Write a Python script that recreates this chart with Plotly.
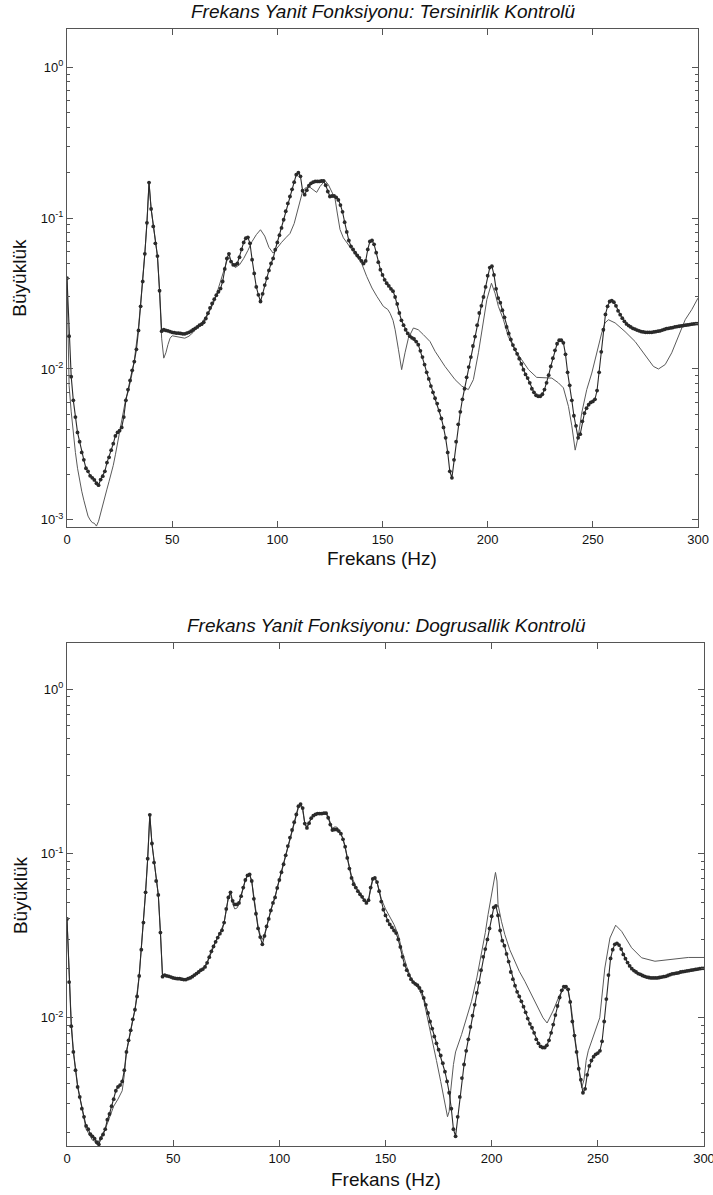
import math
import plotly.graph_objects as go

# ---------------- data ----------------
freq = list(range(0, 301))
measured = [
    0.040, 0.0165, 0.0089, 0.0062, 0.0048, 0.0038, 0.0033, 0.0028, 0.0025, 0.0022,
    0.0021, 0.00196, 0.0019, 0.00184, 0.00175, 0.0017, 0.00185, 0.00195, 0.0021, 0.0024,
    0.0026, 0.0029, 0.0032, 0.0036, 0.0038, 0.0039, 0.0041, 0.0048, 0.0062, 0.0073,
    0.0084, 0.0098, 0.0112, 0.0135, 0.018, 0.026, 0.038, 0.058, 0.093, 0.172,
    0.115, 0.088, 0.068, 0.056, 0.033, 0.0178, 0.0182, 0.018, 0.0179, 0.0177,
    0.0175, 0.0174, 0.0173, 0.0173, 0.0172, 0.0171, 0.0171, 0.0173, 0.0175, 0.0178,
    0.0182, 0.0186, 0.019, 0.0195, 0.0198, 0.0204, 0.0216, 0.0234, 0.0254, 0.0272,
    0.029, 0.0308, 0.0325, 0.0341, 0.038, 0.046, 0.054, 0.058, 0.0515, 0.049,
    0.049, 0.050, 0.055, 0.062, 0.069, 0.0735, 0.0745, 0.068, 0.053, 0.043,
    0.035, 0.031, 0.028, 0.0315, 0.036, 0.040, 0.045, 0.050, 0.054, 0.0617,
    0.069, 0.077, 0.086, 0.0975, 0.111, 0.125, 0.139, 0.155, 0.173, 0.194,
    0.200, 0.189, 0.152, 0.143, 0.153, 0.164, 0.170, 0.173, 0.175, 0.175,
    0.175, 0.176, 0.176, 0.165, 0.150, 0.139, 0.140, 0.140, 0.137, 0.132,
    0.122, 0.110, 0.094, 0.081, 0.071, 0.065, 0.062, 0.059, 0.0565, 0.0545,
    0.052, 0.050, 0.052, 0.062, 0.070, 0.071, 0.067, 0.059, 0.051, 0.0455,
    0.042, 0.039, 0.037, 0.0355, 0.034, 0.0328, 0.030, 0.027, 0.0235, 0.021,
    0.0195, 0.0182, 0.0172, 0.0165, 0.0161, 0.0158, 0.0152, 0.0145, 0.0132, 0.012,
    0.0107, 0.0095, 0.0086, 0.0077, 0.007, 0.0064, 0.0059, 0.0053, 0.0047, 0.0041,
    0.0035, 0.0028, 0.0021, 0.0019, 0.0025, 0.0033, 0.0043, 0.0052, 0.0063, 0.0074,
    0.0088, 0.0103, 0.012, 0.0142, 0.0164, 0.0195, 0.0235, 0.0262, 0.030, 0.035,
    0.0415, 0.047, 0.048, 0.042, 0.034, 0.0295, 0.0275, 0.0245, 0.022, 0.019,
    0.0172, 0.0157, 0.0144, 0.0135, 0.0126, 0.0117, 0.0108, 0.0099, 0.0092, 0.0087,
    0.0081, 0.0074, 0.007, 0.0067, 0.0066, 0.0066, 0.0068, 0.0073, 0.0081, 0.0091,
    0.0104, 0.0118, 0.0133, 0.0147, 0.0155, 0.0155, 0.0149, 0.0125, 0.0095, 0.0078,
    0.0062, 0.0049, 0.0042, 0.0035, 0.0037, 0.0045, 0.0051, 0.0055, 0.0058, 0.006,
    0.0061, 0.0063, 0.0072, 0.0095, 0.013, 0.0182, 0.023, 0.026, 0.028, 0.0284,
    0.0277, 0.0262, 0.0243, 0.0229, 0.0217, 0.0207, 0.0199, 0.0194, 0.019, 0.0186,
    0.0184, 0.0181, 0.0179, 0.0177, 0.0176, 0.0175, 0.0175, 0.0175, 0.0175, 0.0176,
    0.0177, 0.0178, 0.0179, 0.0181, 0.0183, 0.0185, 0.0186, 0.0187, 0.0188, 0.019,
    0.0191, 0.0192, 0.0193, 0.0194, 0.0195, 0.0196, 0.0197, 0.0198, 0.0199, 0.020,
    0.020,
]

tersinirlik_freq = [
    0, 0.5, 1, 2, 3, 4, 5, 6, 7, 8, 9, 10, 11, 12, 13, 14, 15, 16, 17, 18,
    19, 20, 21, 22, 23, 24, 25, 26, 27, 28, 29, 30, 31, 32, 33, 34, 35, 36, 37, 38,
    39, 40, 41, 42, 43, 44, 45, 46, 47, 48, 49, 50, 52, 54, 56, 58, 60, 62, 64, 66,
    68, 70, 72, 74, 76, 77, 78, 80, 82, 84, 86, 88, 90, 92, 94, 96, 98, 100, 102, 104,
    106, 108, 109, 110, 111, 112, 113, 114, 115.5, 117, 118.7, 120.3, 122.7, 124.3, 126, 127.4, 128.5, 129.8, 131.4, 133.3,
    135.4, 137.7, 140, 142.5, 145, 147.3, 150.4, 152.5, 153.6, 155, 156, 157.6, 159.1, 160.7, 162.3, 164.7, 167, 169.4, 172.6, 175,
    179.7, 184.5, 187.7, 190.8, 193.2, 195.6, 198, 199.6, 201.8, 203.5, 205.1, 207.5, 209.8, 213, 216.2, 219.4, 223.3, 227.3, 230.5, 233.6,
    236, 238.4, 240, 241.6, 243.1, 244.7, 247.1, 249.5, 251.9, 254.2, 255.8, 257.4, 260.6, 265.3, 270.1, 274.8, 278.8, 281.2, 284.4, 287.5,
    290.7, 293.9, 297, 300,
]
tersinirlik_mag = [
    0.040, 0.020, 0.0078, 0.0052, 0.0037, 0.0028, 0.0022, 0.00182, 0.00155, 0.00135, 0.0012, 0.00106, 0.0010, 0.00096, 0.00095, 0.00091, 0.00098, 0.00112, 0.00123, 0.0014,
    0.0016, 0.0018, 0.0020, 0.0023, 0.0027, 0.0032, 0.0037, 0.0044, 0.0055, 0.0064, 0.0070, 0.0080, 0.0094, 0.0114, 0.0142, 0.019, 0.027, 0.038, 0.058, 0.093,
    0.172, 0.115, 0.088, 0.068, 0.056, 0.033, 0.016, 0.0118, 0.0128, 0.0145, 0.016, 0.0166, 0.0164, 0.0161, 0.016, 0.0165, 0.0175, 0.019, 0.0202, 0.0222,
    0.0245, 0.028, 0.034, 0.042, 0.052, 0.055, 0.052, 0.047, 0.049, 0.054, 0.061, 0.070, 0.0776, 0.0837, 0.076, 0.064, 0.0586, 0.064, 0.069, 0.074,
    0.079, 0.092, 0.105, 0.120, 0.135, 0.150, 0.157, 0.160, 0.160, 0.154, 0.148, 0.162, 0.177, 0.166, 0.150, 0.135, 0.108, 0.084, 0.074, 0.068,
    0.062, 0.0557, 0.0504, 0.041, 0.0344, 0.0303, 0.026, 0.0248, 0.0234, 0.021, 0.0182, 0.0134, 0.0099, 0.0128, 0.016, 0.0187, 0.0182, 0.0169, 0.0152, 0.0131,
    0.0104, 0.0085, 0.0077, 0.0073, 0.0085, 0.0128, 0.0202, 0.0288, 0.037, 0.0318, 0.026, 0.0212, 0.0164, 0.0134, 0.0115, 0.0099, 0.0088, 0.0088, 0.0087, 0.0081,
    0.0075, 0.00565, 0.0042, 0.0029, 0.0036, 0.0051, 0.0073, 0.0094, 0.0128, 0.0173, 0.0202, 0.0212, 0.0202, 0.0177, 0.0152, 0.0124, 0.0104, 0.0100, 0.0107, 0.0128,
    0.0164, 0.0212, 0.0247, 0.0295,
]

dogrusallik_freq = [
    0, 1, 2, 3, 4, 5, 6, 7, 8, 9, 10, 11, 12, 13, 14, 15, 16, 18, 20, 22,
    24, 26, 27, 28, 30, 32, 34, 35, 36, 37, 38, 39, 40, 41, 42, 43, 44, 45, 46, 48,
    50, 52, 54, 56, 58, 60, 62, 64, 66, 68, 70, 72, 74, 76, 77, 78, 79, 80, 81, 82,
    84, 85, 86, 87, 88, 89, 90, 91, 92, 93, 94, 96, 98, 100, 102, 104, 106, 108, 109, 110,
    111, 112, 113, 114, 116, 118, 120, 122, 123, 124, 125, 126, 127, 128, 130, 132, 133, 134, 136, 138,
    140, 141, 142, 143, 144, 145, 146, 147, 148, 150, 152, 154, 156, 158, 160, 162, 164, 166, 168, 170,
    172, 174, 176, 178, 179.2, 180, 180.7, 182, 183, 185.8, 188, 190.5, 193, 195.2, 197, 198.3, 199.8, 201, 201.8, 202.5,
    203, 204.6, 206.2, 208.5, 210.9, 213, 215.6, 218, 220.3, 222.5, 224.2, 226.1, 228.9, 232.1, 234.5, 236, 237.5, 239, 240.5, 242.4,
    243.5, 244.5, 245.5, 247.8, 250.9, 253.3, 255.7, 258.4, 261.2, 265.9, 270.6, 276.9, 284.8, 292.6, 300,
]
dogrusallik_mag = [
    0.040, 0.018, 0.0095, 0.0063, 0.0048, 0.0039, 0.0033, 0.0028, 0.0024, 0.0021, 0.0020, 0.00188, 0.0018, 0.00178, 0.0017, 0.00178, 0.0019, 0.0021, 0.0025, 0.0029,
    0.0032, 0.0036, 0.0045, 0.0062, 0.0083, 0.0112, 0.018, 0.026, 0.038, 0.058, 0.093, 0.172, 0.115, 0.088, 0.068, 0.056, 0.033, 0.0178, 0.0181, 0.0178,
    0.0175, 0.0172, 0.0171, 0.0172, 0.0176, 0.0184, 0.0192, 0.0199, 0.0218, 0.0258, 0.0293, 0.0328, 0.038, 0.054, 0.057, 0.0495, 0.046, 0.0465, 0.049, 0.055,
    0.069, 0.0735, 0.0745, 0.068, 0.054, 0.044, 0.036, 0.032, 0.030, 0.032, 0.036, 0.045, 0.055, 0.069, 0.086, 0.111, 0.139, 0.173, 0.190, 0.195,
    0.183, 0.152, 0.145, 0.155, 0.171, 0.176, 0.177, 0.178, 0.168, 0.152, 0.142, 0.145, 0.145, 0.140, 0.123, 0.095, 0.082, 0.073, 0.063, 0.056,
    0.052, 0.0505, 0.052, 0.061, 0.069, 0.071, 0.067, 0.060, 0.053, 0.046, 0.041, 0.037, 0.032, 0.025, 0.0205, 0.0175, 0.016, 0.0148, 0.0128, 0.0098,
    0.0072, 0.0055, 0.0041, 0.0031, 0.0025, 0.0027, 0.0036, 0.0052, 0.0062, 0.0079, 0.0098, 0.0126, 0.0175, 0.0243, 0.033, 0.0425, 0.056, 0.070, 0.0767, 0.068,
    0.0489, 0.0387, 0.0321, 0.026, 0.0221, 0.0192, 0.0167, 0.0145, 0.0126, 0.011, 0.0100, 0.0093, 0.011, 0.0139, 0.0152, 0.0145, 0.0115, 0.0080, 0.0058, 0.00375,
    0.0042, 0.0055, 0.0063, 0.0076, 0.0100, 0.0201, 0.0306, 0.0366, 0.0336, 0.0267, 0.0232, 0.0221, 0.0226, 0.0233, 0.0233,
]

x_tick_vals = [0, 50, 100, 150, 200, 250, 300]
y_major_vals = [1e-3, 1e-2, 1e-1, 1.0]
y_major_text = ["10<sup>-3</sup>", "10<sup>-2</sup>", "10<sup>-1</sup>", "10<sup>0</sup>"]
y_minor_vals = [m * 10.0 ** e for e in range(-4, 1) for m in range(2, 10)]

titles = ["Frekans Yanit Fonksiyonu: Tersinirlik Kontrolü",
          "Frekans Yanit Fonksiyonu: Dogrusallik Kontrolü"]
x_title = "Frekans (Hz)"
y_title = "Büyüklük"

# ---------------- figure ----------------
FONT = "Liberation Sans, Arial, Helvetica, sans-serif"
DOT = "#2a2a2a"
THIN = "#5a5a5a"

fig = go.Figure()

def add_pair(thin_x, thin_y, xa, ya):
    fig.add_trace(go.Scatter(x=thin_x, y=thin_y, mode="lines",
                             line=dict(color=THIN, width=1), xaxis=xa, yaxis=ya,
                             showlegend=False))
    fig.add_trace(go.Scatter(x=freq, y=measured, mode="lines+markers",
                             line=dict(color=DOT, width=1.1),
                             marker=dict(color=DOT, size=3.8),
                             xaxis=xa, yaxis=ya, showlegend=False))

add_pair(tersinirlik_freq, tersinirlik_mag, "x", "y")
add_pair(dogrusallik_freq, dogrusallik_mag, "x2", "y2")

axis_common = dict(showline=True, linecolor="#555555", linewidth=1, mirror="ticks",
                   ticks="inside", tickcolor="#555555", showgrid=False, zeroline=False,
                   automargin=False, ticklabeloverflow="allow",
                   tickfont=dict(family=FONT, size=13, color="#111111"))

xcommon = dict(axis_common, range=[0, 300], tickmode="array", tickvals=x_tick_vals,
               ticktext=[str(v) for v in x_tick_vals], ticklen=6)
ycommon = dict(axis_common, type="log", tickmode="array", tickvals=y_major_vals,
               ticktext=y_major_text, ticklen=6,
               minor=dict(ticks="inside", ticklen=3, tickcolor="#555555",
                          tickmode="array", tickvals=y_minor_vals, showgrid=False))

fig.update_layout(
    width=713, height=1195,
    margin=dict(l=67, r=9, t=29, b=49, autoexpand=False),
    paper_bgcolor="white", plot_bgcolor="white",
    font=dict(family=FONT, color="#111111"),
    hovermode=False,
    xaxis=dict(xcommon, domain=[0, 0.9906], anchor="y"),
    yaxis=dict(ycommon, domain=[0.554, 1.0], anchor="x",
               range=[math.log10(8.95e-4), math.log10(1.79)]),
    xaxis2=dict(xcommon, domain=[0, 1.0], anchor="y2"),
    yaxis2=dict(ycommon, domain=[0, 0.450], anchor="x2",
                range=[math.log10(1.66e-3), math.log10(1.9)]),
)

ann = []
ann.append(dict(text="<i>" + titles[0] + "</i>", x=0.496, y=1.0161, xref="paper", yref="paper",
                xanchor="center", yanchor="middle", showarrow=False,
                font=dict(family=FONT, size=19, color="#111111")))
ann.append(dict(text="<i>" + titles[1] + "</i>", x=0.5008, y=0.4664, xref="paper", yref="paper",
                xanchor="center", yanchor="middle", showarrow=False,
                font=dict(family=FONT, size=19, color="#111111")))
ann.append(dict(text=x_title, x=0.4945, y=0.5264, xref="paper", yref="paper",
                xanchor="center", yanchor="middle", showarrow=False,
                font=dict(family=FONT, size=19, color="#111111")))
ann.append(dict(text=x_title, x=0.5008, y=-0.0304, xref="paper", yref="paper",
                xanchor="center", yanchor="middle", showarrow=False,
                font=dict(family=FONT, size=19, color="#111111")))
ann.append(dict(text=y_title, x=-0.0738, y=0.7774, xref="paper", yref="paper",
                xanchor="center", yanchor="middle", textangle=-90, showarrow=False,
                font=dict(family=FONT, size=19, color="#111111")))
ann.append(dict(text=y_title, x=-0.0738, y=0.2246, xref="paper", yref="paper",
                xanchor="center", yanchor="middle", textangle=-90, showarrow=False,
                font=dict(family=FONT, size=19, color="#111111")))
fig.update_layout(annotations=ann)

# remove the page's default 8px body margin so the figure fills the window exactly
fig.write_html("out.html", config={"displayModeBar": False},
               post_script="document.body.style.margin='0px';")
